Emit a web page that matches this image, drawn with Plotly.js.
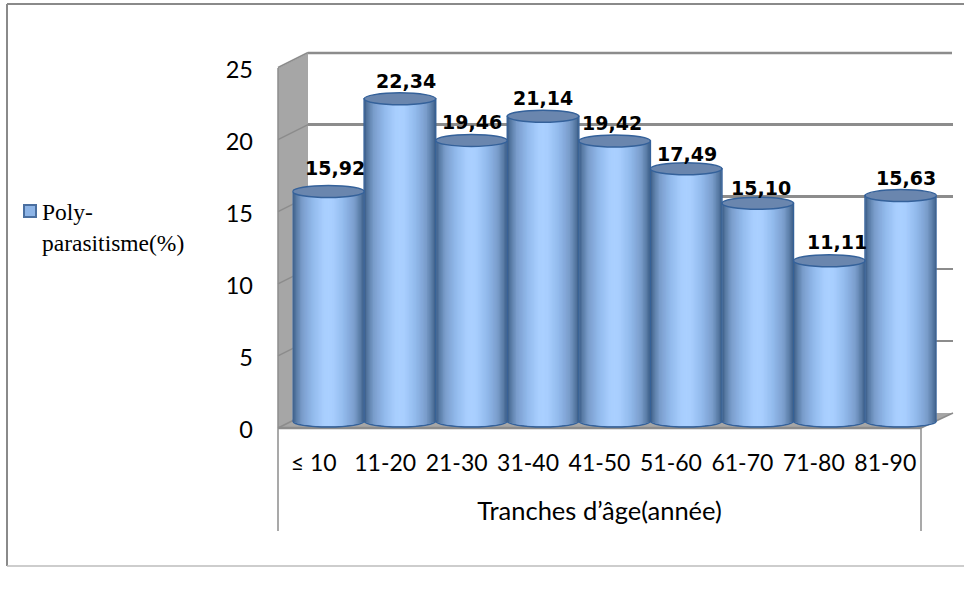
<!DOCTYPE html>
<html>
<head>
<meta charset="utf-8">
<script src="https://cdn.plot.ly/plotly-3.0.1.min.js"></script>
<style>html,body{margin:0;padding:0;background:#fff}#chart{width:964px;height:595px}</style>
</head>
<body>
<div id="chart"></div>
<script>
// Poly-parasitism rate by age group
const categories = ['≤ 10', '11-20', '21-30', '31-40', '41-50', '51-60', '61-70', '71-80', '81-90'];
const polyParasitisme = [15.92, 22.34, 19.46, 21.14, 19.42, 17.49, 15.10, 11.11, 15.63];
const yTicks = [0, 5, 10, 15, 20, 25];
const seriesNameLines = ['Poly-', 'parasitisme(%)'];
const xTitle = 'Tranches d’âge(année)';

const W = 964, H = 595;
const px = v => v / W;
const py = v => (H - v) / H;

// Hand placement of the value labels, in pixels from each cap's centre
const labelLift = [23.4, 17.4, 18.4, 17.9, 17.7, 14.8, 15.3, 18.3, 18.1];
const labelNudge = [7, 6, 1, 0, -3, 1, 3, 8, 5];

// Three stacked coordinate frames give the oblique 3D look:
// back wall (x/y), cylinders (x2/y2), front axis labels (x3/y3).
const unit = 14.42;
const backY0 = 413, barY0 = 421, frontY0 = 428;
const yDomain = y0 => [py(y0), py(y0 - 25 * unit)];

const capRy = 6 / unit;   // elliptical cap half-height, in value units
const barW = 1;
const idx = categories.map((_, i) => i);

// Cylinder shading: nested bars, from the dark rim to the bright middle
const ramp = [[1, [62, 96, 138]], [0.93, [86, 120, 162]], [0.75, [122, 157, 204]], [0.45, [146, 186, 236]], [0.15, [168, 206, 254]], [0, [170, 208, 255]]];
function shade(u) {
  for (let k = 0; k < ramp.length - 1; k++) {
    const [a, ca] = ramp[k], [b, cb] = ramp[k + 1];
    if (u <= a && u >= b) {
      const t = (a - u) / (a - b);
      return 'rgb(' + ca.map((c, j) => Math.round(c + (cb[j] - c) * t)).join(',') + ')';
    }
  }
  return 'rgb(170,208,255)';
}

const traces = [];
// carries the back wall's axes
traces.push({type: 'scatter', x: idx, y: polyParasitisme, xaxis: 'x', yaxis: 'y', mode: 'none', showlegend: false, hoverinfo: 'skip'});

// outline body of each cylinder
traces.push({
  type: 'bar', x: idx, y: polyParasitisme, width: barW, xaxis: 'x2', yaxis: 'y2',
  name: seriesNameLines.join(' '), showlegend: false,
  marker: {color: '#8db4e6', line: {color: '#34619a', width: 1.5}}, hoverinfo: 'skip'
});
const STRIPS = 26;
for (let s = 0; s < STRIPS; s++) {
  const u = 1 - s / STRIPS - 0.012;
  const drop = (capRy - 0.07) * Math.sqrt(Math.max(0, 1 - u * u));
  traces.push({
    type: 'bar', x: idx, y: polyParasitisme.map(v => v + drop), base: idx.map(() => -drop),
    width: barW * u, xaxis: 'x2', yaxis: 'y2', showlegend: false,
    marker: {color: shade(u), line: {width: 0}}, hoverinfo: 'skip'
  });
}
// carries the front axis labels
traces.push({type: 'scatter', x: categories, y: polyParasitisme, xaxis: 'x3', yaxis: 'y3', mode: 'none', showlegend: false, hoverinfo: 'skip'});

const wall = '#a6a6a6', grid = '#8c8c8c';
const shapes = [];
const poly = (pts, fill, layer) => ({
  type: 'path', xref: 'paper', yref: 'paper', layer: layer || 'below',
  path: 'M' + pts.map(p => px(p[0]) + ',' + py(p[1])).join('L') + 'Z',
  fillcolor: fill, line: {width: 0}
});
const seg = (x0, y0, x1, y1, color, width, layer) => ({
  type: 'line', xref: 'paper', yref: 'paper', layer: layer || 'below',
  x0: px(x0), y0: py(y0), x1: px(x1), y1: py(y1), line: {color, width}
});
// chart frame
shapes.push(seg(7, 4, 964, 4, '#8a8a8a', 2));
shapes.push(seg(7, 4, 7, 566, '#8a8a8a', 2));
shapes.push(seg(7, 566, 964, 566, '#bdbdbd', 1.5));
// side wall and floor
shapes.push(poly([[278, 68], [308, 53], [308, backY0], [278, frontY0]], wall));
shapes.push(poly([[278, frontY0], [308, backY0], [953, backY0], [921, frontY0]], wall));
// back wall top edge and side wall tick lines
shapes.push(seg(308, 53, 952, 53, grid, 2.5));
yTicks.forEach(t => shapes.push(seg(278, frontY0 - t * unit, 308, backY0 - t * unit, grid, 1.5)));
shapes.push(seg(278, 68, 278, frontY0, grid, 1.5));
shapes.push(seg(278, frontY0, 921, frontY0, grid, 2.5));
shapes.push(seg(921, frontY0, 953, backY0, grid, 1.5));
// category brackets below the floor
shapes.push(seg(278, frontY0, 278, 531, grid, 1.5));
shapes.push(seg(921, frontY0, 921, 531, grid, 1.5));
// legend swatch
shapes.push({
  type: 'rect', xref: 'paper', yref: 'paper', layer: 'above',
  x0: px(24), x1: px(36), y0: py(217), y1: py(205),
  fillcolor: '#8db4e6', line: {color: '#4a6fa0', width: 2}
});
// cylinder floors and caps
polyParasitisme.forEach((v, i) => {
  const ell = (cy, fill, layer) => ({
    type: 'circle', xref: 'x2', yref: 'y2', layer,
    x0: i - barW / 2, x1: i + barW / 2, y0: cy - capRy, y1: cy + capRy,
    fillcolor: fill, line: {color: '#34619a', width: 1.5}
  });
  shapes.push(ell(0, '#6f94c4', 'below'));
  shapes.push(ell(v, '#6a86ae', 'above'));
});

const annotations = polyParasitisme.map((v, i) => ({
  xref: 'x2', yref: 'y2', x: i, y: v, text: '<b>' + v.toFixed(2).replace('.', ',') + '</b>',
  showarrow: false, xanchor: 'center', yanchor: 'middle', xshift: labelNudge[i], yshift: labelLift[i],
  font: {family: 'DejaVu Sans', size: 19, color: '#000'}
}));
// series key, one annotation per line
[212, 243].forEach((y, i) => annotations.push({
  xref: 'paper', yref: 'paper', x: px(41), y: py(y), text: seriesNameLines[i],
  showarrow: false, xanchor: 'left', yanchor: 'middle', borderpad: 0, align: 'left',
  font: {family: 'Liberation Serif', size: 23.5, color: '#000'}
}));

const hidden = {showgrid: false, zeroline: false, showline: false, ticks: '', showticklabels: false, fixedrange: true};
const layout = {
  width: W, height: H, margin: {l: 0, r: 0, t: 0, b: 0},
  paper_bgcolor: '#fff', plot_bgcolor: 'rgba(0,0,0,0)',
  barmode: 'overlay', showlegend: false, shapes, annotations,
  // back wall with its horizontal grid
  xaxis: Object.assign({}, hidden, {domain: [px(308), px(953)], range: [0, 1], anchor: 'y'}),
  yaxis: Object.assign({}, hidden, {domain: yDomain(backY0), range: [0, 25], anchor: 'x', showgrid: true, gridcolor: grid, gridwidth: 2.5, tickvals: yTicks}),
  // cylinders; one unit below zero leaves room for the rounded feet
  xaxis2: Object.assign({}, hidden, {domain: [px(292.6), px(936.6)], range: [-0.5, 8.5], anchor: 'y2'}),
  yaxis2: Object.assign({}, hidden, {domain: [py(barY0 + unit), py(barY0 - 25 * unit)], range: [-1, 25], anchor: 'x2'}),
  // front labels
  xaxis3: {
    domain: [px(278), px(921)], range: [-0.5, 8.5], anchor: 'y3', type: 'category', categoryorder: 'array', categoryarray: categories,
    showgrid: false, zeroline: false, showline: false, ticks: '', tickmode: 'array', tickvals: categories, ticktext: categories, ticklabelstandoff: 19,
    tickfont: {family: 'Lato', size: 23, color: '#000'}, fixedrange: true,
    title: {text: xTitle, font: {family: 'Lato', size: 25.5, color: '#000'}, standoff: 27}
  },
  yaxis3: {
    domain: yDomain(frontY0), range: [0, 25], anchor: 'x3',
    showgrid: false, zeroline: false, showline: false, ticks: '', tickvals: yTicks, ticklabelstandoff: 24, ticklabelshift: 2,
    tickfont: {family: 'Lato', size: 23.5, color: '#000'}, fixedrange: true
  }
};

Plotly.newPlot('chart', traces, layout, {displayModeBar: false, staticPlot: true});
</script>
</body>
</html>
